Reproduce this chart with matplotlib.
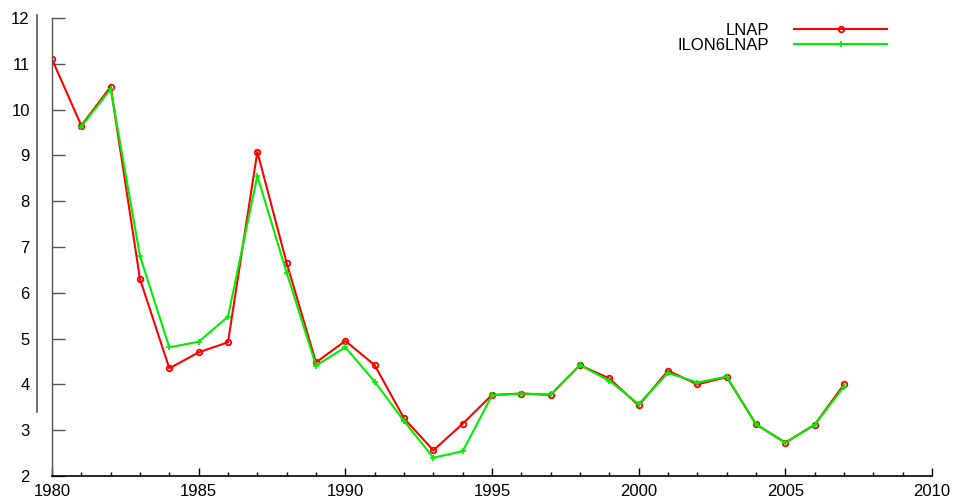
import matplotlib
matplotlib.use("Agg")
import matplotlib.pyplot as plt
from matplotlib.lines import Line2D
from matplotlib.ticker import MultipleLocator

plt.rcParams['font.family'] = ['Liberation Sans', 'DejaVu Sans']

years_lnap = list(range(1980, 2008))
lnap = [11.1, 9.65, 10.5, 6.3, 4.35, 4.7, 4.92, 9.08, 6.65, 4.48,
        4.95, 4.42, 3.26, 2.56, 3.14, 3.77, 3.8, 3.77, 4.42, 4.13,
        3.54, 4.3, 4.0, 4.16, 3.13, 2.73, 3.12, 4.0]

years_ilon = list(range(1981, 2008))
ilon6lnap = [9.63, 10.45, 6.8, 4.81, 4.93, 5.48, 8.55, 6.44, 4.41,
             4.81, 4.06, 3.2, 2.4, 2.54, 3.76, 3.8, 3.78, 4.42, 4.08,
             3.57, 4.25, 4.04, 4.17, 3.13, 2.72, 3.12, 3.95]

W, H = 958, 498
fig = plt.figure(figsize=(W / 100, H / 100), dpi=100)
ax = fig.add_axes([52 / W, 22 / H, 880 / W, 458 / H])

ax.plot(years_lnap, lnap, color='#ff0000', lw=1.5, marker='o', ms=4,
        mfc='none', mec='#ff0000', mew=1.3, label='LNAP')
ax.plot(years_ilon, ilon6lnap, color='#00ee00', lw=1.5, marker='+', ms=4.5,
        mec='#00ee00', mew=1.2, label='ILON6LNAP')

ax.set_xlim(1980, 2010)
ax.set_ylim(2, 12)
ax.xaxis.set_major_locator(MultipleLocator(5))
ax.xaxis.set_minor_locator(MultipleLocator(1))
ax.yaxis.set_major_locator(MultipleLocator(1))

for s in ['top', 'right']:
    ax.spines[s].set_visible(False)
ax.spines['left'].set_color('#555555')
ax.spines['bottom'].set_color('#000000')
ax.spines['left'].set_linewidth(1)
ax.spines['bottom'].set_linewidth(1.2)

ax.tick_params(axis='y', direction='in', length=9, width=1, color='#555555',
               labelsize=12, pad=16)
ax.tick_params(axis='x', which='major', direction='in', length=6, width=1,
               labelsize=12, pad=6)
ax.tick_params(axis='x', which='minor', direction='in', length=3, width=1)

# stray vertical axis line left of the y axis
fig.add_artist(Line2D([37 / W, 37 / W], [1 - 15 / H, 1 - 412 / H],
                      color='#555555', lw=1.2))

leg = ax.legend(loc='upper right', bbox_to_anchor=(894 / W, 1 - 16 / H),
                bbox_transform=fig.transFigure, frameon=False, fontsize=12,
                markerfirst=False, handlelength=5.6, handletextpad=1.5,
                labelspacing=0.0, borderaxespad=0)
for t in leg.get_texts():
    t.set_ha('right')
    t.set_position((0, 0))

fig.savefig('out.png', dpi=100)
